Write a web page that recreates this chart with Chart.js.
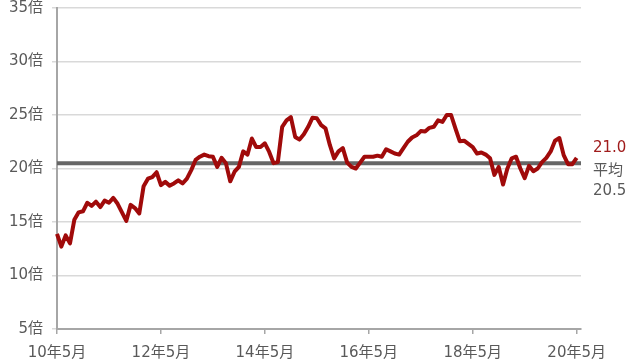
<!DOCTYPE html>
<html>
<head>
<meta charset="utf-8">
<script src="https://cdn.jsdelivr.net/npm/chart.js@4"></script>
<style>
	html, body { margin: 0; padding: 0; background: #ffffff; }
	#perChart { display: block; }
</style>
</head>
<body>
<canvas id="perChart" width="640" height="362"></canvas>
<script>
// monthly PER (倍), 10年5月 .. 20年5月
var perValues = [
	13.9, 12.7, 13.75, 13.0, 15.2, 15.9, 16.0, 16.8, 16.5, 16.9, 16.4, 17.0,
	16.8, 17.25, 16.7, 15.9, 15.1, 16.6, 16.3, 15.8, 18.35, 19.05, 19.2, 19.65,
	18.45, 18.75, 18.4, 18.6, 18.9, 18.6, 19.05, 19.85, 20.8, 21.1, 21.3, 21.15,
	21.1, 20.15, 21.0, 20.5, 18.8, 19.7, 20.15, 21.6, 21.3, 22.8, 22.0, 22.0,
	22.35, 21.55, 20.5, 20.6, 23.9, 24.5, 24.8, 22.95, 22.7, 23.2, 23.9, 24.75,
	24.7, 24.05, 23.75, 22.2, 20.95, 21.6, 21.9, 20.55, 20.15, 20.0, 20.55, 21.1,
	21.1, 21.1, 21.2, 21.1, 21.8, 21.6, 21.4, 21.3, 21.9, 22.5, 22.9, 23.1,
	23.5, 23.45, 23.8, 23.9, 24.5, 24.35, 25.0, 25.0, 23.75, 22.55, 22.6, 22.3,
	22.0, 21.4, 21.5, 21.3, 20.95, 19.4, 20.15, 18.5, 20.0, 20.95, 21.1, 20.0,
	19.1, 20.25, 19.75, 20.0, 20.6, 21.0, 21.6, 22.6, 22.85, 21.25, 20.4, 20.4,
	21.0
];
var averageValue = 20.5;
var tickLabels = ['10年5月', '12年5月', '14年5月', '16年5月', '18年5月', '20年5月'];
var yTicks = [5, 10, 15, 20, 25, 30, 35];

// month categories from 10年5月 to 20年6月
var months = [];
for (var m = 0; m < 122; m++) {
	var yy = 10 + Math.floor((4 + m) / 12);
	var mm = (4 + m) % 12 + 1;
	months.push(yy + '年' + mm + '月');
}

var colors = {
	red: '#a00a0a',
	redText: '#a01c1c',
	avg: '#666666',
	text: '#595959',
	grid: '#d9d9d9',
	axis: '#a6a6a6'
};
var fontFamily = '"DejaVu Sans", "Noto Sans CJK JP", sans-serif';

// labels at the right end of the plot
var endLabels = {
	id: 'endLabels',
	afterDraw: function (chart) {
		var ctx = chart.ctx;
		var y = chart.scales.y;
		var x0 = chart.chartArea.right + 12;
		var last = perValues[perValues.length - 1];
		ctx.save();
		ctx.font = '15px ' + fontFamily;
		ctx.textAlign = 'left';
		ctx.textBaseline = 'middle';
		ctx.fillStyle = colors.redText;
		ctx.fillText(last.toFixed(1), x0, y.getPixelForValue(last) - 10);
		ctx.fillStyle = colors.text;
		ctx.fillText('平均', x0, y.getPixelForValue(averageValue) + 8);
		ctx.fillText(averageValue.toFixed(1), x0, y.getPixelForValue(averageValue) + 28);
		ctx.restore();
	}
};

var config = {
	type: 'line',
	data: {
		labels: months,
		datasets: [{
			label: 'PER',
			data: perValues,
			borderColor: colors.red,
			borderWidth: 4,
			borderJoinStyle: 'round',
			pointRadius: 0,
			tension: 0,
			order: 1
		}, {
			label: '平均',
			data: months.map(function () { return averageValue; }),
			borderColor: colors.avg,
			borderWidth: 4,
			pointRadius: 0,
			order: 2
		}]
	},
	options: {
		responsive: false,
		animation: false,
		layout: {
			padding: { top: 8, right: 59, left: 0, bottom: 0 }
		},
		plugins: {
			legend: { display: false },
			tooltip: { enabled: false }
		},
		scales: {
			x: {
				type: 'category',
				afterFit: function (scale) { scale.height = 33; },
				border: { color: colors.axis, width: 2 },
				grid: {
					drawOnChartArea: false,
					tickLength: 5,
					color: colors.axis,
					lineWidth: function (c) { return c.index % 24 === 0 ? 1.5 : 0; }
				},
				ticks: {
					autoSkip: false,
					maxRotation: 0,
					padding: 10,
					color: colors.text,
					font: { family: fontFamily, size: 15 },
					callback: function (v, i) {
						return i % 24 === 0 ? tickLabels[i / 24] : '';
					}
				}
			},
			y: {
				min: yTicks[0],
				max: yTicks[yTicks.length - 1],
				afterFit: function (scale) {
					scale.width = 57;
					scale.paddingTop = 0;
					scale.paddingBottom = 0;
				},
				afterBuildTicks: function (scale) {
					scale.ticks = yTicks.map(function (v) { return { value: v }; });
				},
				border: { color: colors.axis, width: 2 },
				grid: { color: colors.grid, lineWidth: 1.5, tickLength: 5 },
				ticks: {
					padding: 9,
					color: colors.text,
					font: { family: fontFamily, size: 15 },
					callback: function (v) { return v + '倍'; }
				}
			}
		}
	},
	plugins: [endLabels]
};

var perChart = new Chart(document.getElementById('perChart'), config);
</script>
</body>
</html>
